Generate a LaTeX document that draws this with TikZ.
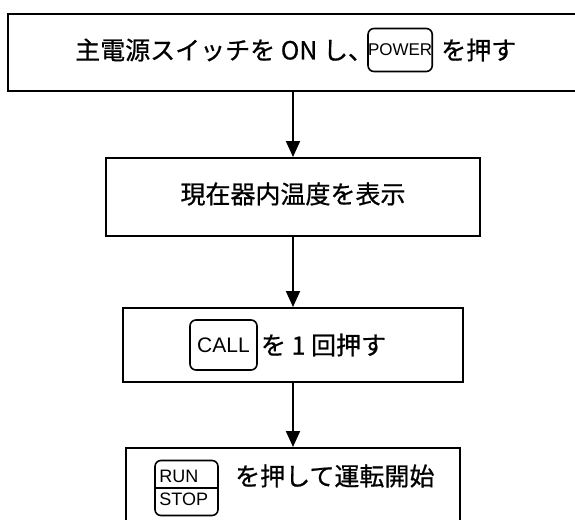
\documentclass[tikz,border=0pt]{standalone}
\usepackage{fontspec}
\setmainfont{Noto Sans CJK JP}[AutoFakeBold=0.7]
\newfontfamily\keyfont{Liberation Sans}
\usetikzlibrary{arrows.meta}
\tikzset{
  box/.style={draw, line width=2pt, inner sep=0pt},
  txt/.style={inner sep=0pt, font=\fontsize{25}{25}\selectfont\bfseries},
  key/.style={draw, line width=1.6pt, rounded corners=6pt, inner sep=0pt},
  keytxt/.style={inner sep=0pt},
  arr/.style={line width=2pt, -{Triangle[width=14pt,length=16pt]}}
}
\begin{document}
\begin{tikzpicture}[x=1pt,y=-1pt]
\useasboundingbox (0,0) rectangle (575,519);
\clip (0,0) rectangle (575,519);
% box 1
\node[box, minimum width=600pt, minimum height=77pt] (b1) at (308,52.5) {};
\node[txt, anchor=west] (t1a) at (75,50) {主電源スイッチを ON し、};
\node[key, anchor=west, minimum width=64pt, minimum height=43pt,
      font=\keyfont\fontsize{17}{17}\selectfont] (k1) at ([xshift=-6pt]t1a.east) {POWER};
\node[txt, anchor=west] (t1b) at ([xshift=8pt]k1.east) {を押す};
% box 2
\node[box, minimum width=374pt, minimum height=78pt] (b2) at (293,197) {};
\node[txt] (t2) at (293,194) {現在器内温度を表示};
% box 3
\node[box, minimum width=340pt, minimum height=74pt] (b3) at (293,345) {};
\node[key, minimum width=67pt, minimum height=50pt,
      font=\keyfont\fontsize{21}{21}\selectfont] (k3) at (223.5,345) {CALL};
\node[txt, anchor=west] (t3) at ([xshift=3pt]k3.east) {を 1 回押す};
% box 4
\node[box, minimum width=334pt, minimum height=120pt] (b4) at (293,508) {};
\node[key, minimum width=63pt, minimum height=55pt] (k4) at (186.5,488) {};
\draw[line width=1.6pt] (k4.west) -- (k4.east);
\node[keytxt, anchor=south west, font=\keyfont\fontsize{18}{18}\selectfont] (k4a) at ([xshift=5pt,yshift=5pt]k4.west) {RUN};
\node[keytxt, anchor=north west, font=\keyfont\fontsize{18}{18}\selectfont] (k4b) at ([xshift=5pt,yshift=-5pt]k4.west) {STOP};
\node[txt, anchor=west] (t4) at (235,476) {を押して運転開始};
% arrows
\draw[arr] (b2.north |- b1.south) -- (b2.north);
\draw[arr] (b3.north |- b2.south) -- (b3.north);
\draw[arr] (b4.north |- b3.south) -- (b4.north);
\end{tikzpicture}
\end{document}
